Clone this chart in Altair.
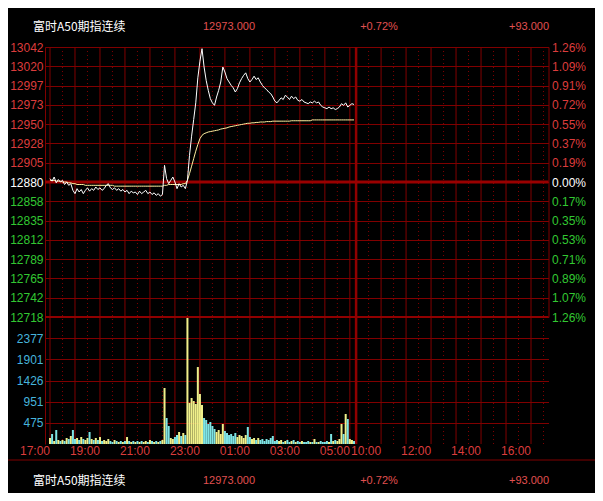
import json
import altair as alt
import pandas as pd

# ---------------- data ----------------
pre_close = 12880
title_texts = ["富时A50期指连续", "12973.000", "+0.72%", "+93.000"]

# minutes from 17:00 (night session 17:00-05:15 = 0..735, day session 09:00-16:30 = 735..1185)
minutes = list(range(0, 735, 5))

price = [
    12884, 12881, 12886, 12879, 12883, 12880, 12882, 12877, 12880, 12876, 12878,
    12870, 12866, 12872, 12868, 12871, 12866, 12870,
    12873, 12869, 12872, 12870, 12874, 12871, 12873, 12870, 12872, 12876, 12878, 12873, 12871,
    12873, 12870, 12872, 12869, 12871, 12868, 12870, 12866, 12869, 12867,
    12868, 12865, 12869, 12866, 12868, 12870, 12866, 12868, 12865, 12867, 12864, 12866, 12863, 12865,
    12900, 12884, 12878, 12882, 12886, 12880, 12872, 12878, 12874, 12876, 12872,
    12882, 12912, 12935, 12955, 12975, 13005, 13025, 13040, 13018, 13002, 12990, 12980, 12975, 12972, 12982,
    12990, 13000, 13018, 13012, 13004, 13000, 12996, 12993, 12988, 12992, 12999, 13004, 13008, 13011, 13004,
    13000, 13003, 13007, 13003, 13005,
    13000, 12996, 12993, 12991, 12988, 12986, 12982, 12977, 12975, 12978, 12981, 12979, 12984, 12982, 12979,
    12983, 12980, 12982, 12978, 12977,
    12979, 12976, 12975, 12974, 12976, 12975, 12977, 12975, 12976, 12972, 12970, 12969, 12968, 12970, 12968,
    12969, 12967, 12968, 12970, 12974, 12972, 12975, 12970, 12972, 12974, 12973,
]

avg_price = [
    12882, 12882, 12882, 12881, 12881, 12881, 12880, 12880, 12880, 12879, 12879,
    12878, 12878, 12877, 12877, 12877, 12877, 12876, 12876, 12876, 12876, 12876, 12876, 12876, 12876,
    12876, 12876, 12876, 12876, 12876, 12876,
    12875, 12875, 12875, 12875, 12875, 12875, 12875, 12875, 12875, 12875, 12875, 12875,
    12875, 12875, 12875, 12875, 12875, 12875, 12875, 12875, 12875, 12875, 12875, 12875,
    12876, 12876, 12877, 12877, 12877, 12877, 12877, 12877, 12877, 12878, 12878,
    12882, 12890, 12899, 12908, 12917, 12925, 12932, 12936, 12938, 12939, 12940, 12940.5, 12941, 12941.5, 12942,
    12942.5, 12943.5, 12944, 12944.5, 12945, 12946, 12946.5, 12947, 12947.5, 12948, 12948.5, 12949, 12949.5,
    12950, 12950.5, 12950.5, 12951, 12951, 12951.5, 12951.5,
    12952, 12952, 12952, 12952.5, 12952.5, 12952.5, 12953, 12953, 12953, 12953, 12953, 12953, 12953, 12953,
    12953, 12953.5, 12953.5, 12953.5, 12953.5, 12953.5,
    12953.5, 12953.5, 12953.5, 12953.5, 12953.5, 12954.5, 12954.5, 12954.5, 12954.5, 12954.5, 12954.5,
    12954.5, 12954.5, 12954.5, 12954.5, 12954.5, 12954.5, 12954.5, 12954.5, 12954.5, 12954.5, 12954.5,
    12954.5, 12954.5, 12954.5, 12954.5,
]

volume = [
    135, 225, 67, 314, 90, 67, 90, 67, 135, 112, 180,
    314, 112, 135, 90, 157, 112, 90,
    135, 270, 112, 90, 135, 90, 157, 67, 90, 67, 112, 67, 45,
    90, 67, 45, 67, 45, 67, 157, 67, 45, 67,
    45, 67, 45, 67, 45, 67, 45, 90, 67, 45, 67, 45, 67, 90,
    1258, 584, 404, 135, 112, 157, 202, 270, 180, 247, 202,
    2830, 921, 1033, 966, 898, 1729, 1123, 876, 584, 539, 449, 494, 404, 337, 270,
    314, 225, 449, 292, 247, 202, 225, 180, 247, 157, 202, 180, 135, 202, 382, 157, 112, 135, 90, 135,
    90, 112, 67, 112, 90, 135, 180, 67, 90, 67, 90, 45, 67, 90, 45, 67, 90, 45, 67, 45,
    67, 45, 45, 67, 45, 45, 112, 45, 45, 67, 45, 45, 67, 45, 225, 67, 90, 67, 112, 449, 225, 674, 562,
    112, 90, 67,
]

price_labels = ["12718", "12742", "12765", "12789", "12812", "12835", "12858", "12880",
                "12905", "12928", "12950", "12973", "12997", "13020", "13042"]
pct_labels = ["1.26%", "1.07%", "0.89%", "0.71%", "0.53%", "0.35%", "0.17%", "0.00%",
              "0.19%", "0.37%", "0.55%", "0.72%", "0.91%", "1.09%", "1.26%"]
vol_ticks = [475, 951, 1426, 1901, 2377]
vol_max = 2853
price_min, price_max = 12718, 13042

x_ticks = [0, 120, 240, 360, 480, 600, 720, 795, 915, 1035, 1155]
time_labels = ["17:00", "19:00", "21:00", "23:00", "01:00", "03:00", "05:00",
               "10:00", "12:00", "14:00", "16:00"]
hour_lines = [0, 60, 120, 180, 240, 300, 360, 420, 480, 540, 600, 660, 720,
              795, 855, 915, 975, 1035, 1095, 1155]
half_lines = [30, 90, 150, 210, 270, 330, 390, 450, 510, 570, 630, 690,
              765, 825, 885, 945, 1005, 1065, 1125, 1185]
session_break = [735]
x_end = 1185

# ---------------- styling ----------------
RED = "#dc3c3c"
GREEN = "#32c832"
CYAN = "#46b4dc"
GRID = "#800000"
FONT = "Liberation Sans"

df = pd.DataFrame({"m": minutes, "price": price, "avg": avg_price, "vol": volume})
df["dir"] = ["up" if i == 0 or df["price"][i] >= df["price"][i - 1] else "down" for i in range(len(df))]

step = (price_max - pre_close) / 7
price_ticks = [pre_close + k * step for k in range(-7, 8)]

label_color = {
    "condition": [
        {"test": f"datum.value > {pre_close + 1}", "value": RED},
        {"test": f"datum.value < {pre_close - 1}", "value": GREEN},
    ],
    "value": "#ffffff",
}

xscale = alt.Scale(domain=[0, x_end], nice=False, zero=False)
x_plain = alt.X("m:Q", scale=xscale, axis=None)

price_axis = alt.Axis(
    orient="left", values=price_ticks,
    labelExpr=f"{json.dumps(price_labels)}[round((datum.value - {pre_close}) / {step}) + 7]",
    labelColor=label_color, labelFont=FONT, labelFontSize=12, labelPadding=2,
    ticks=False, domainColor=GRID, grid=True, gridColor=GRID, gridWidth=1,
    labelOverlap=False, labelFlush=False, labelBound=False, title=None,
)
pct_axis = alt.Axis(
    orient="right", values=price_ticks,
    labelExpr=f"{json.dumps(pct_labels)}[round((datum.value - {pre_close}) / {step}) + 7]",
    labelColor=label_color, labelFont=FONT, labelFontSize=12, labelPadding=3,
    ticks=False, domainColor=GRID, grid=False,
    labelOverlap=False, labelFlush=False, labelBound=False, title=None,
)
x_axis = alt.Axis(
    orient="bottom", values=x_ticks, labels=False,
    tickSize=3, tickColor=GRID, domainColor=GRID, grid=False, title=None,
)
vol_axis = alt.Axis(
    orient="left", values=vol_ticks, format="d",
    labelColor=CYAN, labelFont=FONT, labelFontSize=12, labelPadding=2,
    ticks=False, domainColor=GRID, grid=True, gridColor=GRID, gridWidth=1,
    labelOverlap=False, labelFlush=False, labelBound=False, title=None,
)

# vertical grid
vgrid = alt.Chart(pd.DataFrame({"m": hour_lines})).mark_rule(color=GRID, strokeWidth=1).encode(x=x_plain)
vdots = alt.Chart(pd.DataFrame({"m": half_lines})).mark_rule(
    color=GRID, strokeWidth=1, strokeDash=[1, 3]).encode(x=x_plain)
vbreak = alt.Chart(pd.DataFrame({"m": session_break})).mark_rule(
    color="#900000", strokeWidth=2.5).encode(x=x_plain)

# time labels, placed on the shared x scale, right-aligned to their tick
time_text = alt.Chart(pd.DataFrame({"m": x_ticks, "lab": time_labels})).mark_text(
    align="right", baseline="top", color=RED, font=FONT, fontSize=12, dy=2
).encode(x=x_plain, y=alt.value(397), text="lab:N")

# volume panel
vol_chart = alt.Chart(df).mark_bar(orient="vertical", size=2).encode(
    x=alt.X("m:Q", scale=xscale, axis=x_axis),
    y=alt.Y("vol:Q", scale=alt.Scale(domain=[0, vol_max], range=[397, 270], nice=False, zero=True),
            axis=vol_axis),
    color=alt.Color("dir:N", scale=alt.Scale(domain=["up", "down"], range=["#f0f08a", "#7fe5e5"]),
                    legend=None),
)

# price panel
yscale = alt.Scale(domain=[price_min, price_max], range=[270, 0], nice=False, zero=False)
ref_df = pd.DataFrame({"p": [pre_close]})
bottom_df = pd.DataFrame({"p": [price_min]})
pre_rule = alt.Chart(ref_df).mark_rule(color="#9a0000", strokeWidth=3).encode(
    y=alt.Y("p:Q", scale=yscale, axis=None))
sep_rule = alt.Chart(bottom_df).mark_rule(color="#900000", strokeWidth=2).encode(
    y=alt.Y("p:Q", axis=None))
price_line = alt.Chart(df).mark_line(color="#ffffff", strokeWidth=1).encode(
    x=x_plain,
    y=alt.Y("price:Q", axis=price_axis),
)
avg_line = alt.Chart(df).mark_line(color="#fff0a0", strokeWidth=1).encode(
    x=x_plain,
    y=alt.Y("avg:Q", axis=pct_axis),
)
price_block = alt.layer(pre_rule, sep_rule, avg_line, price_line).resolve_axis(y="independent")

# header / footer texts (the footer is the header of the next panel, same layout)
def txt(s, x, y, color, size, font, align="center"):
    return alt.Chart(pd.DataFrame({"t": [s]})).mark_text(
        align=align, baseline="middle", color=color, fontSize=size, font=font
    ).encode(x=alt.value(x), y=alt.value(y), text="t:N")

CJK = "Noto Sans CJK SC"
NUMRED = "#e05050"
texts = []
for yy in (-20, 434):
    texts += [
        txt(title_texts[0], -12, yy, "#ffffff", 12, CJK, "left"),
        txt(title_texts[1], 184, yy, NUMRED, 11, FONT),
        txt(title_texts[2], 334, yy, NUMRED, 11, FONT),
        txt(title_texts[3], 484, yy, NUMRED, 11, FONT),
    ]
footer_line = alt.Chart(pd.DataFrame({"a": [0]})).mark_rule(color=GRID, strokeWidth=1).encode(
    x=alt.value(-37), x2=alt.value(550), y=alt.value(413))

chart = alt.layer(
    vgrid, vdots, vbreak, vol_chart, price_block, time_text, footer_line, *texts
).resolve_scale(y="independent").properties(
    width=503.5, height=397,
    autosize=alt.AutoSizeParams(type="none"),
    padding={"left": 37, "top": 39, "right": 46, "bottom": 49},
).configure(background="#000000").configure_view(strokeWidth=0)

chart.save("out.html", embed_options={"renderer": "svg", "actions": False})
